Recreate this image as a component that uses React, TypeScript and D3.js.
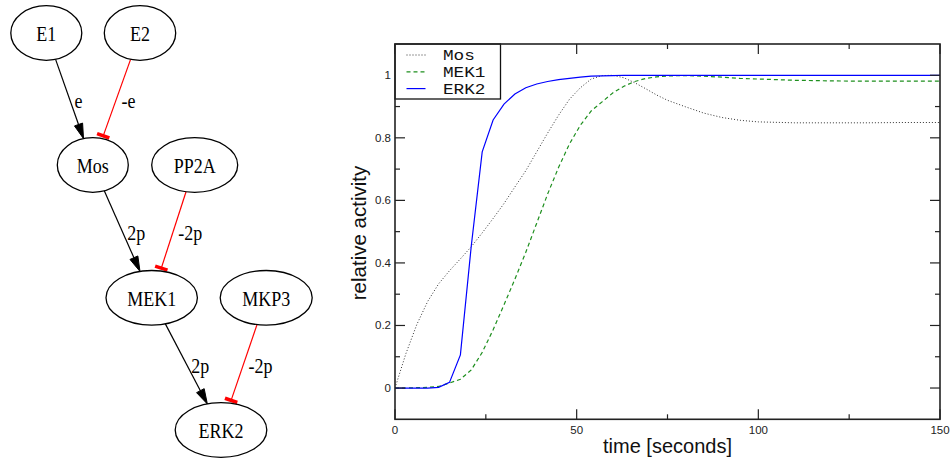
import React from "react";
import * as d3 from "d3";

// ---------- Data ----------
const TIME = [0, 3, 6, 9, 12, 15, 18, 21, 24, 27, 30, 33, 36, 39, 42, 45, 48, 51, 54, 57, 60, 63, 66, 69, 72, 75, 80, 85, 90, 95, 100, 110, 120, 130, 140, 150];
const MOS = [0, 0.11, 0.203, 0.277, 0.333, 0.375, 0.413, 0.452, 0.496, 0.542, 0.59, 0.643, 0.695, 0.755, 0.815, 0.872, 0.923, 0.96, 0.988, 0.999, 1.0, 0.992, 0.976, 0.957, 0.937, 0.92, 0.899, 0.879, 0.865, 0.856, 0.851, 0.848, 0.848, 0.848, 0.849, 0.849];
const MEK1 = [0, 0, 0.001, 0.002, 0.005, 0.016, 0.028, 0.058, 0.114, 0.186, 0.266, 0.348, 0.434, 0.527, 0.62, 0.705, 0.78, 0.84, 0.886, 0.915, 0.944, 0.965, 0.98, 0.99, 0.995, 0.998, 0.999, 0.997, 0.994, 0.99, 0.988, 0.984, 0.982, 0.981, 0.981, 0.981];
const ERK2 = [0, 0, 0, 0, 0.002, 0.018, 0.106, 0.455, 0.755, 0.857, 0.908, 0.94, 0.96, 0.972, 0.98, 0.986, 0.99, 0.994, 0.997, 0.998, 0.999, 1, 1, 1, 1, 1, 1, 1, 1, 1, 1, 1, 1, 1, 1, 1];

const X_TICKS = [0, 50, 100, 150];
const X_MINOR = [25, 75, 125];
const Y_TICKS = [0, 0.2, 0.4, 0.6, 0.8, 1];
const Y_MINOR = [0.1, 0.3, 0.5, 0.7, 0.9];

const SERIES = [
  { name: "Mos", values: MOS, color: "#333333", dash: "1,2", width: 1 },
  { name: "MEK1", values: MEK1, color: "#1e8f1e", dash: "4,3", width: 1.2 },
  { name: "ERK2", values: ERK2, color: "#0000ff", dash: "", width: 1.2 },
];

// Network diagram
const NODES = [
  { id: "E1", cx: 46.3, cy: 33, rx: 35.5 },
  { id: "E2", cx: 140, cy: 33, rx: 35.7 },
  { id: "Mos", cx: 92.8, cy: 165, rx: 35.5 },
  { id: "PP2A", cx: 194.7, cy: 165, rx: 43 },
  { id: "MEK1", cx: 151.7, cy: 297.8, rx: 45.7 },
  { id: "MKP3", cx: 266.2, cy: 297.8, rx: 46 },
  { id: "ERK2", cx: 221, cy: 430, rx: 45.8 },
];
const NODE_RY = 27.3;
const EDGES = [
  { from: "E1", to: "Mos", label: "e", kind: "act" },
  { from: "E2", to: "Mos", label: "-e", kind: "inh" },
  { from: "Mos", to: "MEK1", label: "2p", kind: "act" },
  { from: "PP2A", to: "MEK1", label: "-2p", kind: "inh" },
  { from: "MEK1", to: "ERK2", label: "2p", kind: "act" },
  { from: "MKP3", to: "ERK2", label: "-2p", kind: "inh" },
];

// ---------- Layout ----------
const W = 950;
const H = 458;
const PL = 395, PR = 940, PT = 44, PB = 419.3;

function boundary(n: any, ux: number, uy: number) {
  const t = 1 / Math.sqrt((ux / n.rx) ** 2 + (uy / NODE_RY) ** 2);
  return [n.cx + ux * t, n.cy + uy * t];
}

function Network() {
  const byId: any = {};
  NODES.forEach((n) => (byId[n.id] = n));
  return (
    <g>
      {EDGES.map((e, i) => {
        const s = byId[e.from];
        const t = byId[e.to];
        const dx = t.cx - s.cx, dy = t.cy - s.cy;
        const len = Math.hypot(dx, dy);
        const ux = dx / len, uy = dy / len;
        const [sx, sy] = boundary(s, ux, uy);
        const [tx, ty] = boundary(t, -ux, -uy);
        const mx = (s.cx + t.cx) / 2, my = (s.cy + t.cy) / 2;
        const col = e.kind === "act" ? "#000" : "#ff0000";
        const px = -uy, py = ux;
        let body;
        if (e.kind === "act") {
          const al = 15, aw = 4.3;
          const bx = tx - ux * al, by = ty - uy * al;
          body = (
            <g>
              <line x1={sx} y1={sy} x2={bx} y2={by} stroke={col} strokeWidth={1.2} />
              <path d={`M${tx},${ty}L${bx + px * aw},${by + py * aw}L${bx - px * aw},${by - py * aw}Z`} fill="#000" stroke="#000" strokeWidth={1} />
            </g>
          );
        } else {
          const cx = tx - ux * 3, cy = ty - uy * 3;
          const hl = 6.5;
          body = (
            <g>
              <line x1={sx} y1={sy} x2={cx} y2={cy} stroke={col} strokeWidth={1.2} />
              <line x1={cx + px * hl} y1={cy + py * hl} x2={cx - px * hl} y2={cy - py * hl} stroke={col} strokeWidth={3.6} />
            </g>
          );
        }
        return (
          <g key={i}>
            {body}
            <text x={mx + 5} y={my + 9} fontFamily="'Liberation Serif', 'Times New Roman', serif" fontSize={18} transform={`translate(0,${my + 9}) scale(1,1.12) translate(0,${-(my + 9)})`} fill="#000">
              {e.label}
            </text>
          </g>
        );
      })}
      {NODES.map((n) => (
        <g key={n.id}>
          <ellipse cx={n.cx} cy={n.cy} rx={n.rx} ry={NODE_RY} fill="none" stroke="#000" strokeWidth={1.3} />
          <text x={n.cx} y={n.cy + 8} textAnchor="middle" fontFamily="'Liberation Serif', 'Times New Roman', serif" fontSize={18} transform={`translate(0,${n.cy + 8}) scale(1,1.15) translate(0,${-(n.cy + 8)})`} fill="#000">
            {n.id}
          </text>
        </g>
      ))}
    </g>
  );
}

function Chart() {
  const x = d3.scaleLinear().domain([0, 150]).range([PL, PR]);
  const y = d3.scaleLinear().domain([-0.1, 1.1]).range([PB, PT]);
  const line = (vals: number[]) =>
    d3.line<number>().x((_, i) => x(TIME[i])).y((v) => y(v)).curve(d3.curveLinear)(vals) || "";
  const axisCol = "#222";
  const font = "'Liberation Sans', Arial, Helvetica, sans-serif";
  return (
    <g>
      <defs>
        <clipPath id="plotclip">
          <rect x={PL} y={PT} width={PR - PL} height={PB - PT} />
        </clipPath>
      </defs>
      <g clipPath="url(#plotclip)">
        {SERIES.map((s) => (
          <path key={s.name} d={line(s.values)} fill="none" stroke={s.color} strokeWidth={s.width} strokeDasharray={s.dash || undefined} />
        ))}
      </g>
      {/* ticks */}
      {X_TICKS.map((t) => (
        <g key={"xt" + t}>
          <line x1={x(t)} x2={x(t)} y1={PB} y2={PB - 10} stroke={axisCol} strokeWidth={1.2} />
          <line x1={x(t)} x2={x(t)} y1={PT} y2={PT + 10} stroke={axisCol} strokeWidth={1.2} />
          <text x={x(t)} y={433.5} textAnchor="middle" fontFamily={font} fontSize={11.5} fill="#222">{t}</text>
        </g>
      ))}
      {X_MINOR.map((t) => (
        <g key={"xm" + t}>
          <line x1={x(t)} x2={x(t)} y1={PB} y2={PB - 5} stroke={axisCol} strokeWidth={1.2} />
          <line x1={x(t)} x2={x(t)} y1={PT} y2={PT + 5} stroke={axisCol} strokeWidth={1.2} />
        </g>
      ))}
      {Y_TICKS.map((t) => (
        <g key={"yt" + t}>
          <line x1={PL} x2={PL + 10} y1={y(t)} y2={y(t)} stroke={axisCol} strokeWidth={1.2} />
          <line x1={PR} x2={PR - 10} y1={y(t)} y2={y(t)} stroke={axisCol} strokeWidth={1.2} />
          <text x={391} y={y(t) + 4} textAnchor="end" fontFamily={font} fontSize={11.5} fill="#222">{t}</text>
        </g>
      ))}
      {Y_MINOR.map((t) => (
        <g key={"ym" + t}>
          <line x1={PL} x2={PL + 5} y1={y(t)} y2={y(t)} stroke={axisCol} strokeWidth={1.2} />
          <line x1={PR} x2={PR - 5} y1={y(t)} y2={y(t)} stroke={axisCol} strokeWidth={1.2} />
        </g>
      ))}
      {/* legend */}
      <rect x={PL} y={PT} width={105.5} height={55} fill="#fff" stroke="#111" strokeWidth={1.3} />
      {SERIES.map((s, i) => {
        const ly = 55 + i * 16.8;
        const by = ly + 5;
        return (
          <g key={"lg" + s.name}>
            <line x1={406.5} x2={425.5} y1={ly} y2={ly} stroke={s.color} strokeWidth={s.width} strokeDasharray={s.dash || undefined} />
            <text x={443} y={by} fontFamily="'Liberation Mono', 'Courier New', monospace" fontSize={14.5} transform={`translate(443,${by}) scale(1.22,1.05) translate(-443,${-by})`} fill="#111">{s.name}</text>
          </g>
        );
      })}
      {/* frame */}
      <rect x={PL} y={PT} width={PR - PL} height={PB - PT} fill="none" stroke={axisCol} strokeWidth={1.6} />
      {/* titles */}
      <text x={(PL + PR) / 2} y={453} textAnchor="middle" fontFamily={font} fontSize={20} fill="#111">time [seconds]</text>
      <text transform={`translate(366,233) rotate(-90)`} textAnchor="middle" fontFamily={font} fontSize={20.5} fill="#111">relative activity</text>
    </g>
  );
}

export default function App() {
  return (
    <svg width={W} height={H} viewBox={`0 0 ${W} ${H}`} style={{ position: "absolute", left: 0, top: 0, display: "block", background: "#fff" }}>
      <rect width={W} height={H} fill="#fff" />
      <Network />
      <Chart />
    </svg>
  );
}
